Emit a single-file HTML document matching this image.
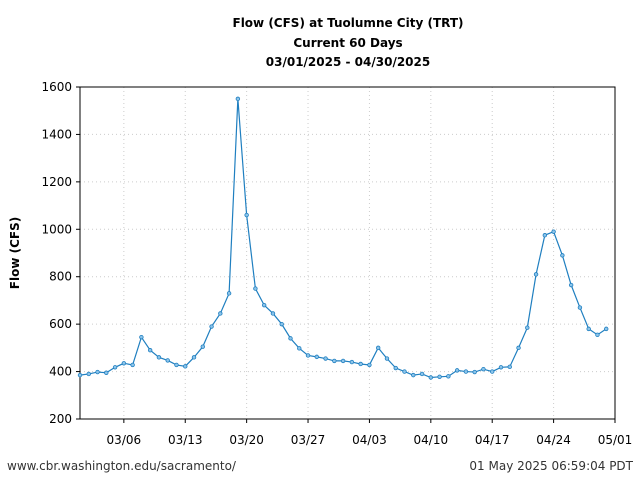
<!DOCTYPE html>
<html><head><meta charset="utf-8"><style>
body{margin:0;background:#fff;font-family:"DejaVu Sans","Liberation Sans",sans-serif}
svg text{font-family:"DejaVu Sans","Liberation Sans",sans-serif}
</style></head><body>
<svg id="chart" width="640" height="480" xmlns="http://www.w3.org/2000/svg">
<g font-weight="bold" font-size="12" text-anchor="middle" fill="#000">
<text x="348" y="27">Flow (CFS) at Tuolumne City (TRT)</text>
<text x="348" y="47">Current 60 Days</text>
<text x="348" y="66">03/01/2025 - 04/30/2025</text>
</g>
<g id="grid"></g>
<g id="axes"></g>
<g id="series"></g>
<text transform="translate(19,253) rotate(-90)" text-anchor="middle" font-size="12" font-weight="bold">Flow (CFS)</text>
<text x="7" y="470" font-size="12" fill="#333">www.cbr.washington.edu/sacramento/</text>
<text x="633" y="470" font-size="12" fill="#333" text-anchor="end">01 May 2025 06:59:04 PDT</text>
</svg>
<script>
const flowValues=[385,390,398,395,418,435,428,545,490,460,447,428,422,460,505,590,645,730,1550,1060,750,680,645,600,540,498,468,462,455,445,445,440,432,428,500,455,415,400,385,390,375,378,380,405,400,398,410,400,418,420,500,585,810,975,990,890,765,670,580,555,580];
const yTicks=[200,400,600,800,1000,1200,1400,1600];
const xTickLabels=["03/06","03/13","03/20","03/27","04/03","04/10","04/17","04/24","05/01"];
const xTickDays=[5,12,19,26,33,40,47,54,61];
const L=80,R=615,T=87,B=419;
const xs=d=>L+(R-L)*d/61;
const ys=v=>B-(v-200)*(B-T)/1400;
const NS="http://www.w3.org/2000/svg";
function mk(p,tag,a){const e=document.createElementNS(NS,tag);for(const k in a)e.setAttribute(k,a[k]);p.appendChild(e);return e;}
const g=document.getElementById('grid'),ax=document.getElementById('axes'),s=document.getElementById('series');
yTicks.forEach(v=>{
  const l=mk(g,'line',{x1:L,x2:R,y1:ys(v),y2:ys(v),stroke:'#ccc','stroke-dasharray':'1,3'});
  
  
  const t=mk(ax,'line',{x1:L-4,x2:L,y1:ys(v),y2:ys(v),stroke:'#000'});
  
  
  const tx=mk(ax,'text',{x:L-8,y:ys(v)+4,'text-anchor':'end','font-size':12});
  tx.textContent=v;
  
  
});
xTickDays.forEach((d,i)=>{
  const l=mk(g,'line',{x1:xs(d),x2:xs(d),y1:T,y2:B,stroke:'#ccc','stroke-dasharray':'1,3'});
  
  
  const t=mk(ax,'line',{x1:xs(d),x2:xs(d),y1:B,y2:B+4,stroke:'#000'});
  
  
  const tx=mk(ax,'text',{x:xs(d),y:B+25,'text-anchor':'middle','font-size':12});
  tx.textContent=xTickLabels[i];
  
  
});
const fr=mk(ax,'rect',{x:L,y:T,width:R-L,height:B-T,fill:'none',stroke:'#000','stroke-width':1});


const pl=mk(s,'polyline',{points:flowValues.map((v,i)=>xs(i)+','+ys(v)).join(' '),fill:'none',stroke:'#1f7fc0','stroke-width':1.2});


flowValues.forEach((v,i)=>{
  const c=mk(s,'circle',{cx:xs(i),cy:ys(v),r:1.8,fill:'#8cc4ea',stroke:'#1f7fc0','stroke-width':0.8});
  
  
});
</script>
</body></html>
